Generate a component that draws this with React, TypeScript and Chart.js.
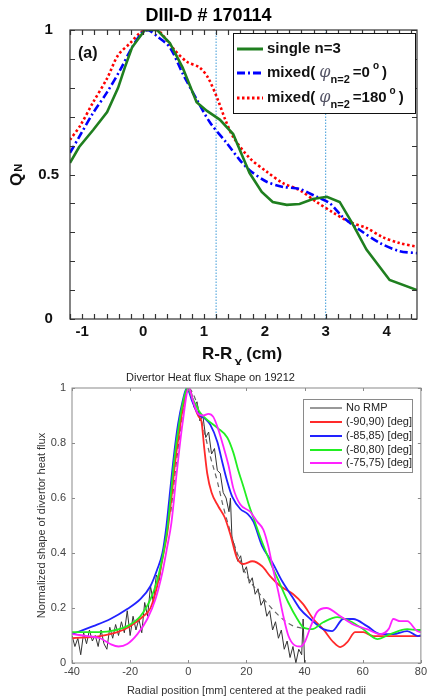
import React, { useEffect, useRef } from 'react';
import { Chart, registerables } from 'chart.js';
Chart.register(...registerables);

const FONT = '"Liberation Sans", Arial, Helvetica, sans-serif';

// ---------- top panel data ----------
const topTitle = 'DIII-D # 170114';
const topPanelTag = '(a)';
const singleX = [-1.2, -1.05, -0.82, -0.59, -0.41, -0.3, -0.18, 0.03, 0.23, 0.44, 0.65, 0.88, 1.05, 1.26, 1.48, 1.64, 1.75, 1.95, 2.13, 2.36, 2.57, 2.79, 3.02, 3.23, 3.44, 3.67, 4.05, 4.5];
const singleY = [0.54, 0.595, 0.654, 0.716, 0.8, 0.87, 0.94, 1.0, 1.0, 0.955, 0.87, 0.75, 0.72, 0.69, 0.64, 0.56, 0.505, 0.44, 0.405, 0.395, 0.398, 0.415, 0.423, 0.405, 0.33, 0.24, 0.135, 0.1];
const mixed0X = [-1.2, -1.03, -0.82, -0.59, -0.38, -0.18, -0.02, 0.08, 0.25, 0.44, 0.65, 0.88, 1.1, 1.37, 1.59, 1.75, 2.03, 2.3, 2.57, 2.85, 3.07, 3.28, 3.56, 3.89, 4.21, 4.5];
const mixed0Y = [0.575, 0.637, 0.713, 0.785, 0.86, 0.94, 0.99, 1.0, 0.975, 0.94, 0.85, 0.76, 0.68, 0.61, 0.55, 0.515, 0.475, 0.457, 0.45, 0.423, 0.4, 0.353, 0.308, 0.263, 0.235, 0.228];
const mixed180X = [-1.2, -1.03, -0.82, -0.59, -0.41, -0.21, -0.05, 0.06, 0.23, 0.39, 0.52, 0.72, 0.93, 1.07, 1.23, 1.35, 1.48, 1.75, 2.03, 2.3, 2.57, 2.85, 3.11, 3.39, 3.67, 3.93, 4.21, 4.5];
const mixed180Y = [0.62, 0.67, 0.75, 0.833, 0.913, 0.955, 0.99, 1.0, 1.0, 0.965, 0.93, 0.89, 0.87, 0.834, 0.758, 0.69, 0.63, 0.557, 0.51, 0.47, 0.446, 0.405, 0.37, 0.336, 0.315, 0.284, 0.263, 0.25];
const markerLinesX = [1.2, 3.0];
const topXMajorTicks = [-1, 0, 1, 2, 3, 4];

// ---------- bottom panel data ----------
const bottomTitle = 'Divertor Heat flux Shape on 19212';
const bottomXTitle = 'Radial position [mm] centered at the peaked radii';
const bottomYTitle = 'Normalized shape of divertor heat flux';
const bottomLegend = ['No RMP', '(-90,90) [deg]', '(-85,85) [deg]', '(-80,80) [deg]', '(-75,75) [deg]'];

const noRmpX = [-40, -39, -38, -37, -36, -35, -34, -33, -32, -31, -30, -29, -28, -27, -26, -25, -24, -23, -22, -21, -20, -19, -18, -17, -16, -15, -14, -13, -12, -11, -10, -9, -8, -7, -6, -5, -4, -3, -2, -1, 0, 1, 2, 3, 4, 5, 6, 7, 8, 9, 10, 11, 12, 13, 14, 14.5, 15, 16, 17, 18, 19, 20, 21, 22, 23, 24, 25, 26, 27, 28, 29, 30, 31, 32, 33, 34, 35, 36, 37, 38, 39, 39.5, 40];
const noRmpY = [0.1, 0.06, 0.09, 0.03, 0.11, 0.07, 0.12, 0.08, 0.1, 0.06, 0.12, 0.07, 0.05, 0.13, 0.09, 0.14, 0.1, 0.15, 0.11, 0.19, 0.1, 0.17, 0.12, 0.16, 0.11, 0.22, 0.17, 0.28, 0.22, 0.32, 0.3, 0.38, 0.45, 0.53, 0.61, 0.7, 0.78, 0.86, 0.93, 0.97, 1.0, 0.99, 0.93, 0.95, 0.88, 0.9, 0.82, 0.84, 0.76, 0.78, 0.7, 0.69, 0.62, 0.6, 0.55, 0.6, 0.46, 0.42, 0.37, 0.39, 0.33, 0.35, 0.29, 0.31, 0.25, 0.27, 0.21, 0.23, 0.17, 0.19, 0.12, 0.15, 0.09, 0.12, 0.05, 0.08, 0.02, 0.06, 0.0, 0.05, 0.03, 0.16, 0.0];
const fitX = [-6, -3, 0, 2.4, 4.8, 7.6, 10, 12, 14.4, 16.8, 20, 25, 29, 33, 36, 40];
const fitY = [0.55, 0.82, 1.0, 0.96, 0.87, 0.75, 0.66, 0.57, 0.48, 0.4, 0.32, 0.245, 0.195, 0.155, 0.135, 0.125];
const deg90X = [-40, -30.3, -24.4, -20, -15.5, -13, -10.7, -8.9, -7.2, -6, -4.5, -3, -1.5, 0, 2.4, 3.6, 4.5, 5.5, 6.5, 8, 10.3, 12.5, 14.4, 16.8, 19, 22, 25.4, 28.2, 31.6, 36.1, 39.5, 43, 46.4, 49.9, 52.3, 54.7, 57.4, 60.2, 63.6, 70, 80];
const deg90Y = [0.09, 0.098, 0.112, 0.134, 0.17, 0.2, 0.28, 0.377, 0.475, 0.58, 0.73, 0.85, 0.95, 1.0, 0.924, 0.895, 0.88, 0.78, 0.69, 0.62, 0.57, 0.53, 0.47, 0.38, 0.36, 0.37, 0.352, 0.315, 0.28, 0.25, 0.214, 0.16, 0.123, 0.076, 0.058, 0.076, 0.112, 0.112, 0.098, 0.098, 0.098];
const deg85X = [-40, -32.7, -26.8, -21, -16.5, -13, -10.7, -8.9, -7.5, -6.5, -5, -3.5, -2, -0.5, 1.4, 3.4, 5.8, 7.6, 10, 11.7, 13.4, 15.1, 17.9, 20.3, 22.4, 25.4, 28.9, 32.3, 35.8, 38.5, 42, 46.4, 49.5, 53.3, 56.7, 61.5, 66, 70.5, 75.3, 79, 80];
const deg85Y = [0.105, 0.134, 0.16, 0.196, 0.232, 0.28, 0.34, 0.4, 0.5, 0.6, 0.75, 0.87, 0.95, 1.0, 0.95, 0.906, 0.888, 0.866, 0.804, 0.73, 0.66, 0.605, 0.56, 0.543, 0.514, 0.425, 0.366, 0.297, 0.24, 0.196, 0.16, 0.123, 0.116, 0.16, 0.16, 0.134, 0.105, 0.105, 0.116, 0.098, 0.1];
const deg80X = [-40, -32.7, -26.8, -21, -16.5, -13, -10.7, -8.6, -7.2, -6.2, -4.8, -3.3, -1.8, -0.3, 1.5, 3, 4.1, 6.5, 10, 13.4, 15.5, 17.2, 19, 20.6, 23, 25, 28.2, 31.6, 34.4, 37.5, 39.5, 42.6, 46.4, 51.2, 55.7, 60.2, 65, 69.5, 75.3, 79, 80];
const deg80Y = [0.112, 0.112, 0.116, 0.134, 0.17, 0.232, 0.3, 0.4, 0.49, 0.59, 0.74, 0.86, 0.95, 1.0, 0.96, 0.93, 0.91, 0.884, 0.855, 0.82, 0.765, 0.7, 0.64, 0.583, 0.51, 0.45, 0.366, 0.286, 0.22, 0.16, 0.13, 0.123, 0.148, 0.167, 0.152, 0.123, 0.087, 0.105, 0.123, 0.12, 0.12];
const deg75X = [-40, -34.7, -30.3, -26.8, -24, -21, -17.5, -14.1, -11.3, -8.9, -7.2, -5.8, -4, -2, 0.2, 1.7, 3.4, 5.2, 6.9, 8.6, 10.3, 12, 13.8, 15.5, 17.9, 21.3, 23.7, 25.8, 27.5, 29.2, 31, 32.7, 34.4, 36.5, 38.5, 40, 42, 44.3, 47.5, 52.3, 56.7, 61.5, 66, 69, 70.5, 72.9, 75.3, 78.7, 80];
const deg75Y = [0.105, 0.098, 0.09, 0.069, 0.06, 0.069, 0.105, 0.16, 0.232, 0.33, 0.425, 0.51, 0.69, 0.87, 1.0, 0.95, 0.906, 0.9, 0.906, 0.895, 0.85, 0.79, 0.72, 0.635, 0.576, 0.55, 0.514, 0.485, 0.425, 0.34, 0.257, 0.17, 0.1, 0.065, 0.06, 0.075, 0.13, 0.185, 0.2, 0.17, 0.14, 0.123, 0.105, 0.125, 0.16, 0.152, 0.152, 0.116, 0.112];

const pts = (xs: number[], ys: number[]) => xs.map((x, i) => ({ x, y: ys[i] }));

function framePlugin(color: string, lw: number, len: number) {
  return {
    id: 'frameTicks',
    afterDatasetsDraw(chart: any) {
      const { ctx, chartArea: a } = chart;
      const xs = chart.scales.x, ys = chart.scales.y;
      ctx.save();
      ctx.strokeStyle = color;
      ctx.lineWidth = lw;
      ctx.setLineDash([]);
      ctx.beginPath();
      xs.ticks.forEach((t: any) => {
        const p = Math.round(xs.getPixelForValue(t.value)) + 0.5;
        ctx.moveTo(p, a.bottom); ctx.lineTo(p, a.bottom - len);
        ctx.moveTo(p, a.top); ctx.lineTo(p, a.top + len);
      });
      ys.ticks.forEach((t: any) => {
        const p = Math.round(ys.getPixelForValue(t.value)) + 0.5;
        ctx.moveTo(a.left, p); ctx.lineTo(a.left + len, p);
        ctx.moveTo(a.right, p); ctx.lineTo(a.right - len, p);
      });
      ctx.stroke();
      ctx.strokeRect(a.left, a.top, a.right - a.left, a.bottom - a.top);
      ctx.restore();
    },
  };
}

const topDecor = {
  id: 'topDecor',
  afterDraw(chart: any) {
    const { ctx } = chart;
    ctx.save();
    ctx.fillStyle = '#111';
    ctx.textBaseline = 'alphabetic';
    ctx.font = `bold 16px ${FONT}`;
    ctx.fillText(topPanelTag, 78, 58);
    ctx.font = `bold 17px ${FONT}`;
    let x = 202;
    ctx.fillText('R-R', x, 359);
    x += ctx.measureText('R-R').width + 2;
    ctx.font = `bold 12px ${FONT}`;
    ctx.fillText('X', x, 368);
    x += ctx.measureText('X').width + 4;
    ctx.font = `bold 17px ${FONT}`;
    ctx.fillText('(cm)', x, 359);
    ctx.save();
    ctx.translate(22, 186);
    ctx.rotate(-Math.PI / 2);
    ctx.font = `bold 17px ${FONT}`;
    ctx.fillText('Q', 0, 0);
    const qw = ctx.measureText('Q').width;
    ctx.font = `bold 11px ${FONT}`;
    ctx.fillText('N', qw + 1, 0);
    ctx.restore();
    const L = 233, T = 33, W = 182, H = 80;
    ctx.fillStyle = '#fff';
    ctx.fillRect(L, T, W, H);
    ctx.strokeStyle = '#111';
    ctx.lineWidth = 1;
    ctx.strokeRect(L + 0.5, T + 0.5, W, H);
    const rows = [
      { y: 49, color: '#1f7f1f', dash: [] as number[] },
      { y: 73, color: '#0000ff', dash: [8, 3, 2, 3] },
      { y: 98, color: '#ff0000', dash: [2.5, 2.5] },
    ];
    rows.forEach((r) => {
      ctx.strokeStyle = r.color;
      ctx.lineWidth = 3;
      ctx.setLineDash(r.dash);
      ctx.beginPath();
      ctx.moveTo(237, r.y);
      ctx.lineTo(263, r.y);
      ctx.stroke();
    });
    ctx.setLineDash([]);
    ctx.fillStyle = '#111';
    ctx.textBaseline = 'middle';
    ctx.font = `bold 15px ${FONT}`;
    ctx.fillText('single n=3', 267, 49);
    const mixed = (y: number, val: string) => {
      let cx = 267;
      ctx.font = `bold 15px ${FONT}`;
      ctx.fillStyle = '#111';
      ctx.fillText('mixed(', cx, y);
      cx += ctx.measureText('mixed(').width + 4;
      ctx.font = `italic 16px "DejaVu Serif", serif`;
      ctx.fillStyle = '#556';
      ctx.fillText('\u03c6', cx, y);
      cx += ctx.measureText('\u03c6').width;
      ctx.font = `bold 11px ${FONT}`;
      ctx.fillStyle = '#111';
      ctx.fillText('n=2', cx, y + 7);
      cx += ctx.measureText('n=2').width + 3;
      ctx.font = `bold 15px ${FONT}`;
      ctx.fillText('=' + val, cx, y);
      cx += ctx.measureText('=' + val).width + 3;
      ctx.font = `bold 10px ${FONT}`;
      ctx.fillText('o', cx, y - 7);
      cx += ctx.measureText('o').width + 3;
      ctx.font = `bold 15px ${FONT}`;
      ctx.fillText(')', cx, y);
    };
    mixed(73, '0');
    mixed(98, '180');
    ctx.restore();
  },
};

const bottomLegendPlugin = {
  id: 'bottomLegend',
  afterDraw(chart: any) {
    const { ctx } = chart;
    ctx.save();
    const L = 303, T = 34, W = 109, H = 73;
    ctx.fillStyle = '#fff';
    ctx.fillRect(L, T, W, H);
    ctx.strokeStyle = '#8a8a8a';
    ctx.lineWidth = 1;
    ctx.strokeRect(L + 0.5, T + 0.5, W, H);
    const colors = ['#333333', '#ff2a2a', '#2222ff', '#22ee22', '#ff22ff'];
    const ysRows = [43, 57, 71, 85, 98];
    ctx.font = `11px ${FONT}`;
    ctx.textBaseline = 'middle';
    bottomLegend.forEach((txt, i) => {
      ctx.strokeStyle = colors[i];
      ctx.lineWidth = i === 0 ? 1 : 2;
      ctx.beginPath();
      ctx.moveTo(310, ysRows[i]);
      ctx.lineTo(342, ysRows[i]);
      ctx.stroke();
      ctx.fillStyle = '#222';
      ctx.fillText(txt, 346, ysRows[i]);
    });
    ctx.restore();
  },
};

function TopChart() {
  const ref = useRef<HTMLCanvasElement>(null);
  useEffect(() => {
    const lineDs = (label: string, data: any, color: string, dash: number[], smooth: boolean) => ({
      label, data, borderColor: color, borderWidth: 2.6, borderDash: dash, pointRadius: 0, fill: false,
      tension: smooth ? 0.3 : 0, borderCapStyle: 'butt',
    });
    const chart = new Chart(ref.current!, {
      type: 'line',
      data: {
        datasets: [
          lineDs('single n=3', pts(singleX, singleY), '#1f7f1f', [], false),
          lineDs('mixed 0', pts(mixed0X, mixed0Y), '#0000ff', [8, 3, 2, 3], true),
          lineDs('mixed 180', pts(mixed180X, mixed180Y), '#ff0000', [2.5, 2.5], true),
          ...markerLinesX.map((mx) => ({
            label: 'marker', data: [{ x: mx, y: 0 }, { x: mx, y: 1 }], borderColor: '#3d9ad8', borderWidth: 1,
            borderDash: [1.5, 1.5], pointRadius: 0, fill: false,
          })),
        ],
      },
      options: {
        animation: false,
        responsive: false,
        layout: { padding: { left: 0, right: 12, top: 0, bottom: 0 } },
        plugins: {
          legend: { display: false },
          tooltip: { enabled: false },
          title: {
            display: true, text: topTitle, color: '#000',
            font: { family: FONT, size: 18, weight: 'bold' }, padding: { top: 5, bottom: 3.4 },
          },
        },
        scales: {
          x: {
            type: 'linear', min: -1.2, max: 4.5,
            grid: { display: false, drawTicks: false },
            border: { display: false },
            afterFit: (s: any) => { s.height = 46; },
            afterBuildTicks: (s: any) => {
              const t: any[] = [];
              for (let k = -6; k <= 22; k++) t.push({ value: Math.round(k * 2) / 10 });
              s.ticks = t;
            },
            ticks: {
              autoSkip: false, maxRotation: 0, padding: 4, color: '#111',
              font: { family: FONT, size: 15, weight: 'bold' },
              callback: (v: any) => {
                const m = topXMajorTicks.find((q) => Math.abs(q - v) < 1e-6);
                return m === undefined ? '' : String(m);
              },
            },
          },
          y: {
            type: 'linear', min: 0, max: 1,
            grid: { display: false, drawTicks: false },
            border: { display: false },
            afterFit: (s: any) => { s.width = 70; },
            ticks: {
              stepSize: 0.1, autoSkip: false, padding: 11, crossAlign: 'center', color: '#111',
              font: { family: FONT, size: 15, weight: 'bold' },
              callback: (v: any) => {
                if (Math.abs(v) < 1e-6) return '0';
                if (Math.abs(v - 0.5) < 1e-6) return '0.5';
                if (Math.abs(v - 1) < 1e-6) return '1';
                return '';
              },
            },
          },
        },
      } as any,
      plugins: [framePlugin('#333', 1.2, 5), topDecor],
    });
    return () => chart.destroy();
  }, []);
  return <canvas ref={ref} width={429} height={365} style={{ position: 'absolute', left: 0, top: 0 }} />;
}

function BottomChart() {
  const ref = useRef<HTMLCanvasElement>(null);
  useEffect(() => {
    const smooth = (label: string, xs: number[], ys: number[], color: string) => ({
      label, data: pts(xs, ys), borderColor: color, borderWidth: 1.8, pointRadius: 0, fill: false,
      cubicInterpolationMode: 'monotone',
    });
    const chart = new Chart(ref.current!, {
      type: 'line',
      data: {
        datasets: [
          smooth(bottomLegend[4], deg75X, deg75Y, '#ff22ff'),
          smooth(bottomLegend[3], deg80X, deg80Y, '#22ee22'),
          smooth(bottomLegend[2], deg85X, deg85Y, '#2222ff'),
          smooth(bottomLegend[1], deg90X, deg90Y, '#ff2a2a'),
          {
            label: 'fit', data: pts(fitX, fitY), borderColor: '#666', borderWidth: 1.2, borderDash: [5, 4],
            pointRadius: 0, fill: false, cubicInterpolationMode: 'monotone',
          },
          {
            label: bottomLegend[0], data: pts(noRmpX, noRmpY), borderColor: '#333', borderWidth: 1,
            pointRadius: 0, fill: false, tension: 0,
          },
        ],
      },
      options: {
        animation: false,
        responsive: false,
        layout: { padding: { left: 0, right: 8, top: 0, bottom: 0 } },
        plugins: {
          legend: { display: false },
          tooltip: { enabled: false },
          title: {
            display: true, text: bottomTitle, color: '#222',
            font: { family: FONT, size: 11, weight: 'normal' }, padding: { top: 6, bottom: 3.8 },
          },
        },
        scales: {
          x: {
            type: 'linear', min: -40, max: 80,
            grid: { display: false, drawTicks: false },
            border: { display: false },
            afterFit: (s: any) => { s.height = 34; },
            title: {
              display: true, text: bottomXTitle, color: '#333',
              font: { family: FONT, size: 11 }, padding: { top: 0, bottom: -1 },
            },
            ticks: {
              stepSize: 20, autoSkip: false, maxRotation: 0, padding: 2, color: '#444',
              font: { family: FONT, size: 11 },
            },
          },
          y: {
            type: 'linear', min: 0, max: 1,
            grid: { display: false, drawTicks: false },
            border: { display: false },
            afterFit: (s: any) => { s.width = 72; },
            title: {
              display: true, text: bottomYTitle, color: '#333',
              font: { family: FONT, size: 11 }, padding: { top: 35, bottom: 0 },
            },
            ticks: {
              stepSize: 0.2, autoSkip: false, padding: 6, color: '#444',
              font: { family: FONT, size: 11 },
              callback: (v: any) => String(+Number(v).toFixed(1)),
            },
          },
        },
      } as any,
      plugins: [framePlugin('#8a8a8a', 1, 3), bottomLegendPlugin],
    });
    return () => chart.destroy();
  }, []);
  return <canvas ref={ref} width={429} height={332} style={{ position: 'absolute', left: 0, top: 365 }} />;
}

export default function App() {
  return (
    <div style={{ position: 'absolute', left: 0, top: 0, width: 429, height: 697, background: '#fff', overflow: 'hidden' }}>
      <TopChart />
      <BottomChart />
    </div>
  );
}
